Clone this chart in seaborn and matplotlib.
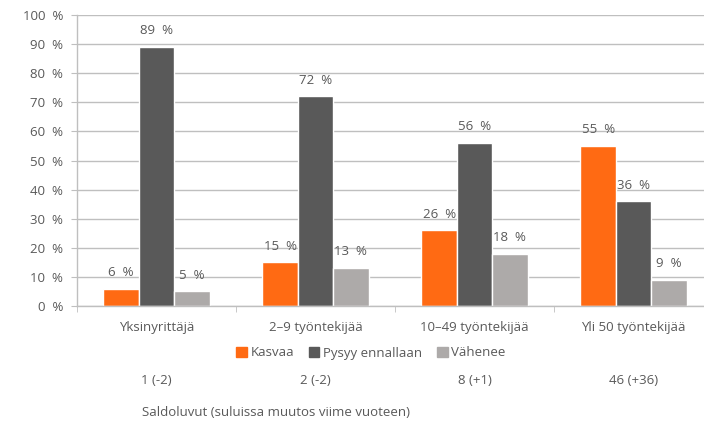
import pandas as pd
import matplotlib
matplotlib.use("Agg")
import matplotlib.pyplot as plt
import matplotlib.transforms as mtransforms
import seaborn as sns

categories = ["Yksinyrittäjä", "2–9 työntekijää", "10–49 työntekijää", "Yli 50 työntekijää"]
series = ["Kasvaa", "Pysyy ennallaan", "Vähenee"]
kasvaa = [6, 15, 26, 55]
pysyy = [89, 72, 56, 36]
vahenee = [5, 13, 18, 9]
saldo = ["1 (-2)", "2 (-2)", "8 (+1)", "46 (+36)"]
saldo_title = "Saldoluvut (suluissa muutos viime vuoteen)"

colors = ["#FF6A13", "#595959", "#ADAAA9"]
text_col = "#595959"
fs = 9.5

df = pd.DataFrame({
    "ryhma": categories * 3,
    "sarja": [series[0]] * 4 + [series[1]] * 4 + [series[2]] * 4,
    "osuus": kasvaa + pysyy + vahenee,
})

sns.set_style("white")
plt.rcParams["font.family"] = ["Open Sans", "DejaVu Sans"]
plt.rcParams["font.size"] = fs
plt.rcParams["text.color"] = text_col

fig = plt.figure(figsize=(7.04, 4.30), dpi=100)
ax = fig.add_axes([77 / 704, 124 / 430, 636 / 704, 291 / 430])

sns.barplot(data=df, x="ryhma", y="osuus", hue="sarja", order=categories,
            hue_order=series, palette=colors, width=0.667, gap=0,
            saturation=1, ax=ax, legend=True)

for cont in ax.containers:
    ax.bar_label(cont, labels=[f"{v:.0f}  %" for v in cont.datavalues],
                 padding=7, color=text_col, fontsize=fs)

ax.set_xlim(-0.5, 3.5)
ax.set_ylim(0, 100)
ax.set_yticks(range(0, 101, 10))
ax.set_yticklabels([f"{v}  %" for v in range(0, 101, 10)])
ax.yaxis.grid(True, color="#BFBFBF", linewidth=1)
ax.set_axisbelow(True)
ax.set_xlabel("")
ax.set_ylabel("")

for side in ["top", "right"]:
    ax.spines[side].set_visible(False)
for side in ["left", "bottom"]:
    ax.spines[side].set_color("#BFBFBF")
    ax.spines[side].set_linewidth(1)

ax.tick_params(axis="y", length=4, color="#BFBFBF", pad=6, labelcolor=text_col, left=True)
ax.tick_params(axis="x", which="major", length=0, pad=11, labelcolor=text_col)
ax.set_xticks([-0.5, 0.5, 1.5, 2.5, 3.5], minor=True)
ax.tick_params(axis="x", which="minor", length=4, color="#BFBFBF", bottom=True)

ax.get_legend().remove()
handles = [plt.Rectangle((0, 0), 1, 1, color=c) for c in colors]
fig.legend(handles, series, loc="center", bbox_to_anchor=(371 / 704, 1 - 353 / 430),
           ncol=3, frameon=False, handlelength=0.8, handleheight=0.8,
           handletextpad=0.3, columnspacing=1.1, fontsize=fs, labelcolor=text_col)

trans = mtransforms.blended_transform_factory(ax.transData, fig.transFigure)
for i, s in enumerate(saldo):
    ax.text(i, 1 - 380 / 430, s, transform=trans, ha="center", va="center",
            color=text_col, fontsize=fs)
fig.text(142 / 704, 1 - 412 / 430, saldo_title, ha="left", va="center",
         color=text_col, fontsize=fs)

fig.savefig("out.png", dpi=100)
